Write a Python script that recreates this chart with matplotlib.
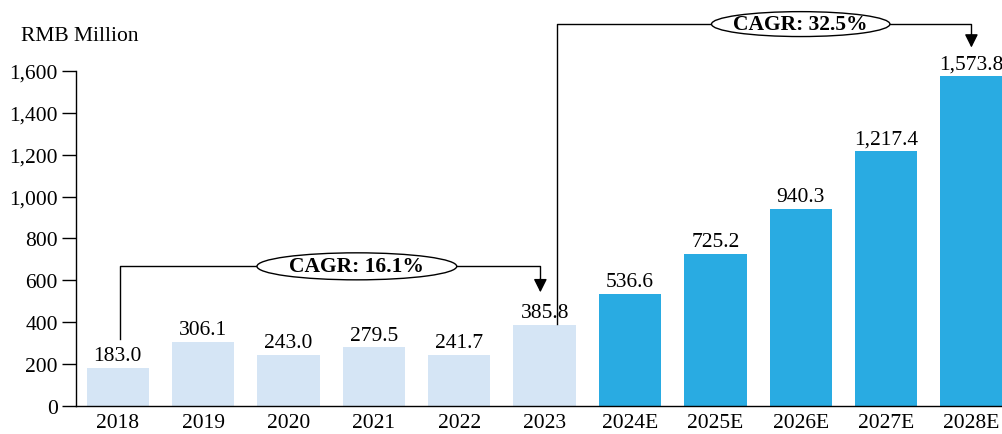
import matplotlib.pyplot as plt
from matplotlib.patches import Ellipse

years = ['2018', '2019', '2020', '2021', '2022', '2023',
         '2024E', '2025E', '2026E', '2027E', '2028E']
values = [183.0, 306.1, 243.0, 279.5, 241.7, 385.8,
          536.6, 725.2, 940.3, 1217.4, 1573.8]
n_hist = 6
cagr_hist = 'CAGR: 16.1%'
cagr_fcst = 'CAGR: 32.5%'

plt.rcParams['font.family'] = ['Liberation Serif', 'DejaVu Serif']

light = '#d5e5f5'
dark = '#29abe2'
colors = [light] * n_hist + [dark] * (len(values) - n_hist)
fs = 15.5

fig = plt.figure(figsize=(10.03, 4.35), dpi=100)
ax = fig.add_axes([0.0758, 0.0644, 0.9242, 0.7701])

x = list(range(len(years)))
ax.bar(x, values, width=0.73, color=colors, zorder=2)
for xi, v in zip(x, values):
    ax.text(xi, v + 14, f'{v:,.1f}', ha='center', va='bottom', fontsize=fs)

ax.set_xlim(-0.49, 10.37)
ax.set_ylim(0, 1600)
ax.set_yticks(range(0, 1601, 200))
ax.set_yticklabels([f'{t:,}' for t in range(0, 1601, 200)], fontsize=fs)
ax.set_xticks(x)
ax.set_xticklabels(years, fontsize=fs)
ax.tick_params(axis='x', length=0, pad=5)
ax.tick_params(axis='y', length=10, width=1, pad=3)
for s in ['top', 'right']:
    ax.spines[s].set_visible(False)
ax.spines['left'].set_linewidth(1)
ax.spines['bottom'].set_linewidth(1)

fig.text(0.021, 0.915, 'RMB Million', fontsize=fs, ha='left', va='center')

# CAGR brackets
lw = 1
def bracket(x0, y0, x1, ytop, ytip, cx, ew, eh, label):
    ax.plot([x0, x0, x1, x1], [y0, ytop, ytop, ytip + 60], color='black',
            lw=lw, clip_on=False, zorder=3)
    ax.annotate('', xy=(x1, ytip), xytext=(x1, ytip + 64),
                arrowprops=dict(arrowstyle='-|>', color='black', lw=lw,
                                mutation_scale=20, shrinkA=0, shrinkB=0),
                annotation_clip=False)
    ax.add_patch(Ellipse((cx, ytop), ew, eh, facecolor='white',
                         edgecolor='black', lw=lw, clip_on=False, zorder=4))
    ax.text(cx, ytop, label, ha='center', va='center', fontsize=fs,
            fontweight='bold', zorder=5, clip_on=False)

bracket(0.02, 320, 4.95, 667, 543, 2.8, 2.34, 129, cagr_hist)
bracket(5.15, 392, 10.0, 1824, 1712, 8.0, 2.09, 119, cagr_fcst)

fig.savefig('out.png', dpi=100)
